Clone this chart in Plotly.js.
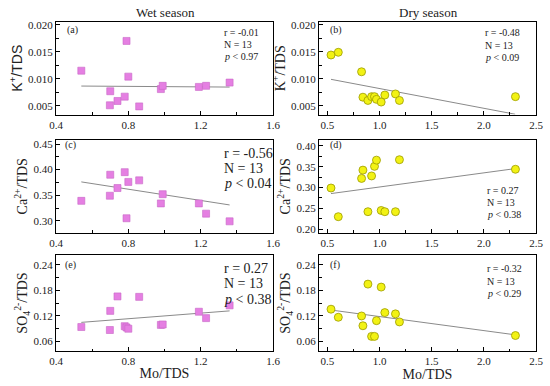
<!DOCTYPE html>
<html>
<head>
<meta charset="utf-8">
<script src="https://cdn.plot.ly/plotly-3.0.1.min.js"></script>
<style>html,body{margin:0;padding:0;background:#fff}#chart{width:550px;height:386px}</style>
</head>
<body>
<div id="chart"></div>
<script>
// ---- data ----
const wetMo   = [0.54, 0.698, 0.70, 0.74, 0.78, 0.79, 0.80, 0.86, 0.98, 0.99, 1.19, 1.23, 1.36];
const wetK    = [0.0115, 0.0051, 0.0077, 0.0059, 0.0067, 0.0170, 0.0104, 0.0049, 0.0081, 0.0087, 0.0085, 0.0087, 0.0093];
const wetCa   = [0.339, 0.349, 0.390, 0.364, 0.395, 0.305, 0.376, 0.379, 0.334, 0.352, 0.334, 0.314, 0.299];
const wetSO4  = [0.094, 0.087, 0.132, 0.166, 0.096, 0.093, 0.090, 0.165, 0.099, 0.100, 0.130, 0.115, 0.145];

const dryMo   = [0.535, 0.605, 0.828, 0.841, 0.889, 0.924, 0.952, 0.971, 1.016, 1.051, 1.153, 1.191, 2.303];
const dryK    = [0.0144, 0.0149, 0.0113, 0.0066, 0.0060, 0.0067, 0.0067, 0.0062, 0.0057, 0.0070, 0.0072, 0.0060, 0.0067];
const dryCa   = [0.299, 0.230, 0.322, 0.342, 0.242, 0.328, 0.351, 0.366, 0.245, 0.242, 0.242, 0.367, 0.344];
const drySO4  = [0.136, 0.117, 0.120, 0.097, 0.195, 0.072, 0.072, 0.109, 0.188, 0.128, 0.125, 0.106, 0.074];

// fitted regression line end points (as drawn in the reference)
const fitWetX   = [0.54, 1.36];
const fitWetK   = [0.00866, 0.00847];
const fitWetCa  = [0.376, 0.331];
const fitWetSO4 = [0.105, 0.132];
const fitDryX   = [0.535, 2.30];
const fitDryK   = [0.0099, 0.00345];
const fitDryCa  = [0.2856, 0.3456];
const fitDrySO4 = [0.134, 0.0757];

const panelLabels = ['(a)', '(b)', '(c)', '(d)', '(e)', '(f)'];
const statR = ['r = -0.01', 'r = -0.48', 'r = -0.56', 'r = 0.27', 'r = 0.27', 'r = -0.32'];
const statN = ['N = 13', 'N = 13', 'N = 13', 'N = 13', 'N = 13', 'N = 13'];
const statP = ['0.97', '0.09', '0.04', '0.38', '0.38', '0.29'];
const colTitles = ['Wet season', 'Dry season'];
const yTitles = ['K<sup>+</sup>/TDS', 'K<sup>+</sup>/TDS', 'Ca<sup>2+</sup>/TDS', 'Ca<sup>2+</sup>/TDS',
                 'SO<sub>4</sub><sup>2-</sup>/TDS', 'SO<sub>4</sub><sup>2-</sup>/TDS'];
const xTitle = 'Mo/TDS';

// ---- styling ----
const SERIF = 'Liberation Serif, Times New Roman, serif';
const SANS = 'Liberation Sans, Arial, sans-serif';
const W = 550, H = 386;
const wetMarker = {symbol: 'square', size: 7, color: '#e57fe2', line: {color: '#c766c6', width: 0.6}};
const dryMarker = {symbol: 'circle', size: 8, color: '#f2f214', line: {color: '#9c9a00', width: 0.8}};
const fitLine = {color: '#8a8a8a', width: 1};

const traces = [];
function addPanel(i, xs, ys, fx, fy, marker) {
  const ax = i === 0 ? '' : String(i + 1);
  traces.push({type: 'scatter', mode: 'lines', x: fx, y: fy, line: fitLine,
               xaxis: 'x' + ax, yaxis: 'y' + ax, hoverinfo: 'skip', showlegend: false});
  traces.push({type: 'scatter', mode: 'markers', x: xs, y: ys, marker: marker,
               xaxis: 'x' + ax, yaxis: 'y' + ax, showlegend: false});
}
addPanel(0, wetMo, wetK, fitWetX, fitWetK, wetMarker);
addPanel(1, dryMo, dryK, fitDryX, fitDryK, dryMarker);
addPanel(2, wetMo, wetCa, fitWetX, fitWetCa, wetMarker);
addPanel(3, dryMo, dryCa, fitDryX, fitDryCa, dryMarker);
addPanel(4, wetMo, wetSO4, fitWetX, fitWetSO4, wetMarker);
addPanel(5, dryMo, drySO4, fitDryX, fitDrySO4, dryMarker);

// pixel geometry
const colX = [[56, 273], [319, 536]];
const rowY = [[22, 114.5], [140, 232.5], [255, 351]];
const xRanges = [[0.4, 1.6], [0.42, 2.5]];
const yRanges = [[0.0034, 0.0205], [0.0034, 0.0205], [0.2772, 0.4578], [0.192, 0.4144], [0.0376, 0.2635], [0.0376, 0.2635]];
const yDticks = [0.005, 0.005, 0.05, 0.05, 0.06, 0.06];
const yFormats = ['.3f', '.3f', '.2f', '.2f', '.2f', '.2f'];

const layout = {
  width: W, height: H,
  margin: {l: 0, r: 0, t: 0, b: 0},
  paper_bgcolor: '#fff', plot_bgcolor: '#fff',
  showlegend: false,
  font: {family: SERIF, size: 11, color: '#111'},
  annotations: [], shapes: []
};

for (let i = 0; i < 6; i++) {
  const c = i % 2, r = Math.floor(i / 2);
  const ax = i === 0 ? '' : String(i + 1);
  const xa = {
    domain: [colX[c][0] / W, colX[c][1] / W], anchor: 'y' + ax,
    range: xRanges[c], tick0: c === 0 ? 0.4 : 0.5, dtick: c === 0 ? 0.4 : 0.5,
    tickformat: '.1f', ticks: 'inside', ticklen: 4, tickwidth: 1, tickcolor: '#000',
    minor: {dtick: c === 0 ? 0.2 : 0.25, tick0: c === 0 ? 0.4 : 0.5, ticks: 'inside', ticklen: 2.5, tickcolor: '#000', showgrid: false},
    showline: true, linecolor: '#000', linewidth: 1, mirror: true,
    showgrid: false, zeroline: false,
    tickfont: {family: SERIF, size: 11, color: '#222'}
  };
  if (r === 2) xa.title = {text: xTitle, font: {family: SERIF, size: 14, color: '#222'}, standoff: 1};
  layout['xaxis' + ax] = xa;
  layout['yaxis' + ax] = {
    domain: [1 - rowY[r][1] / H, 1 - rowY[r][0] / H], anchor: 'x' + ax,
    range: yRanges[i], dtick: yDticks[i], tickformat: yFormats[i],
    ticks: 'inside', ticklen: 4, tickwidth: 1, tickcolor: '#000',
    minor: {dtick: yDticks[i] / 2, ticks: 'inside', ticklen: 2.5, tickcolor: '#000', showgrid: false},
    showline: true, linecolor: '#000', linewidth: 1, mirror: true,
    showgrid: false, zeroline: false,
    tickfont: {family: SERIF, size: 11, color: '#222'},
    title: {text: yTitles[i], font: {family: i === 0 ? SANS : SERIF, size: 14, color: '#222'}, standoff: 2}
  };
}

function ann(text, px, py, size, xanchor, opts) {
  return Object.assign({xref: 'paper', yref: 'paper', x: px / W, y: 1 - py / H,
    xanchor: xanchor || 'left', yanchor: 'middle', showarrow: false, text: text,
    font: {family: SERIF, size: size, color: '#222'}}, opts || {});
}

layout.annotations.push(ann(colTitles[0], 165, 12, 13, 'center'));
layout.annotations.push(ann(colTitles[1], 428, 12, 13, 'center'));

const labelPos = [[65, 30], [328, 30], [63, 145], [328, 145], [63, 265], [328, 265]];
for (let i = 0; i < 6; i++) layout.annotations.push(ann(panelLabels[i], labelPos[i][0], labelPos[i][1], 10, 'left'));

// stats text: [x, y1, y2, y3, size]
const statPos = [
  [222, 33, 45, 57, 10],
  [483, 33, 46, 58, 10],
  [222, 153, 168, 183, 14],
  [485, 190, 202, 214, 10],
  [222, 268, 283, 299, 14],
  [485, 268, 281, 293, 10]
];
for (let i = 0; i < 6; i++) {
  const s = statPos[i];
  layout.annotations.push(ann(statR[i], s[0], s[1], s[4], 'left'));
  layout.annotations.push(ann(statN[i], s[0], s[2], s[4], 'left'));
  layout.annotations.push(ann('<i>p</i> &lt; ' + statP[i], s[0], s[3], s[4], 'left'));
}

Plotly.newPlot('chart', traces, layout, {staticPlot: true, displayModeBar: false});
</script>
</body>
</html>
